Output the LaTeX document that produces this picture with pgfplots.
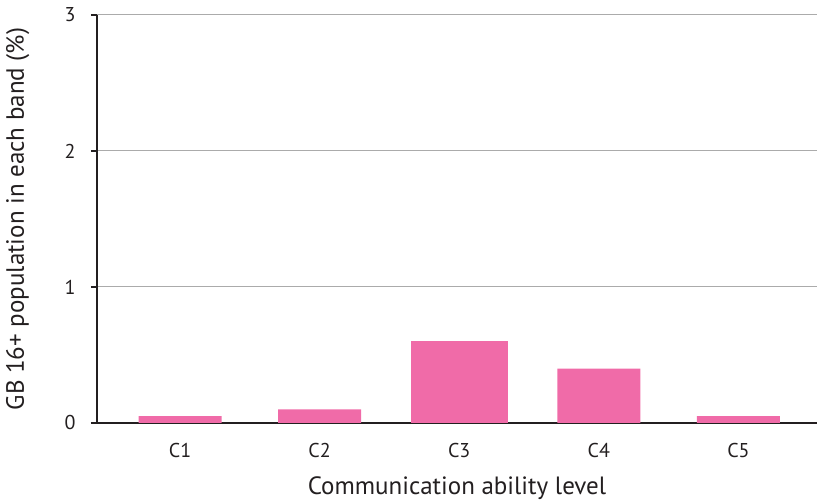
\documentclass[border=0pt]{standalone}
\usepackage{pgfplots}
\pgfplotsset{compat=1.18}
\usepackage{fontspec}
\setmainfont{PT Sans}
\definecolor{barpink}{HTML}{F06BA8}
\definecolor{txt}{HTML}{231F20}
\definecolor{gridgray}{HTML}{ABABAB}
\begin{document}
\begin{tikzpicture}[x=1pt,y=1pt]
\useasboundingbox (-97,-80) rectangle (720,423);
\begin{axis}[
  at={(0,0)}, anchor=south west,
  scale only axis, width=720pt, height=408pt,
  xmin=0.405, xmax=5.563,
  ymin=0, ymax=3,
  axis x line=bottom, axis y line=left,
  axis line style={-, line width=1.6pt, color=txt},
  xtick={1,2,3,4,5},
  xticklabels={C1,C2,C3,C4,C5},
  major x tick style={draw=none},
  ytick={0,1,2,3},
  y tick style={line width=1.4pt, color=txt},
  tick align=outside,
  major tick length=6pt,
  ymajorgrids,
  grid style={gridgray, line width=1pt},
  /pgf/number format/assume math mode=true,
  tick label style={font=\fontsize{20}{22}\selectfont, text=txt},
  xticklabel style={anchor=center, yshift=-22pt},
  yticklabel style={anchor=east, xshift=-12pt},
  xlabel={Communication ability level},
  ylabel={GB 16+ population in each band (\%)},
  label style={font=\fontsize{25}{28}\selectfont, text=txt},
  xlabel style={at={(axis description cs:0.5,-0.16)}, anchor=center},
  ylabel style={at={(axis description cs:-0.11,0.5)}, anchor=center, rotate=0},
]
\addplot[ybar, bar width=0.595, fill=barpink, draw=none] coordinates {(1,0.05) (2,0.10) (4,0.40) (5,0.05)};
\addplot[ybar, bar width=0.695, fill=barpink, draw=none] coordinates {(3,0.60)};
\end{axis}
\end{tikzpicture}
\end{document}
